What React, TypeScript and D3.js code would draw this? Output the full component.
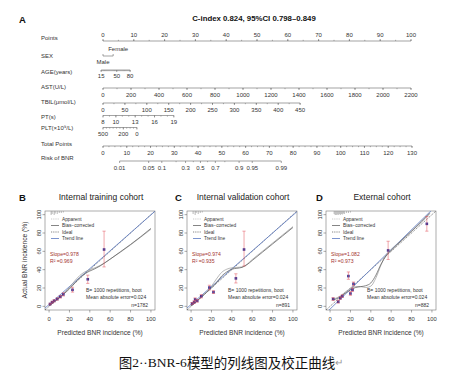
import React from "react";
import * as d3 from "d3";

// ---------- nomogram data ----------
const pointTicks = [0, 10, 20, 30, 40, 50, 60, 70, 80, 90, 100];
const sexLevels = ["Male", "Female"];
const sexScores = [0, 3.3];
const ageTicks = [15, 50, 80];
const ageRange = [15, 80];
const ageScores = [-0.6, 8.8];
const astTicks = [0, 200, 400, 600, 800, 1000, 1200, 1400, 1600, 1800, 2000, 2200];
const astRange = [0, 2200];
const astScores = [0, 100];
const tbilTicks = [0, 50, 100, 150, 200, 250, 300, 350, 400, 450];
const tbilRange = [0, 450];
const tbilScores = [0, 64];
const ptTicks = [8, 10, 13, 16, 19];
const ptRange = [8, 19];
const ptScores = [0, 23];
const pltTicks = [500, 200, 0];
const pltRange = [500, 0];
const pltScores = [0, 11];
const totalTicks = [0, 10, 20, 30, 40, 50, 60, 70, 80, 90, 100, 110, 120, 130];
const riskTicks = [0.01, 0.05, 0.1, 0.3, 0.5, 0.7, 0.9, 0.95, 0.99];
const riskMinor = [0.2, 0.4, 0.6, 0.8];
const riskMid = 41; // total points at 50% risk
const riskPerLogit = 7.4;

// ---------- calibration data: [predicted, actual, lower, upper] ----------
const trainPts = [
  [1, 2.5, 1.6, 3.4], [3, 4.5, 3.4, 5.6], [5, 6, 4.8, 7.2], [8, 8, 6.7, 9.3],
  [11, 10.5, 9, 12], [14, 13, 11.3, 14.8], [23, 18, 15.5, 20.8],
  [38, 29.5, 25, 34], [54, 62, 43, 82],
];
const trainApp = [[0, 0.5], [5, 5], [10, 9.5], [15, 14.5], [20, 20.5], [25, 27.5], [30, 33.5], [35, 37.5], [40, 40], [45, 42], [50, 44.5], [60, 51.5], [70, 59], [80, 67], [90, 75.5], [100, 84]];
const trainCor = [[0, 0.5], [5, 4.8], [10, 9.2], [15, 14], [20, 19], [25, 25], [30, 31], [35, 35.5], [40, 38.5], [45, 41], [50, 44], [60, 51.5], [70, 59.5], [80, 67.5], [90, 76], [100, 85]];
const trainRug = [[2, 4], [3, 3], [5, 4], [6, 2.5], [8, 3], [10, 2], [12, 2], [14, 1.5]];

const validPts = [
  [1, 3, 1.8, 4.2], [3, 4.5, 3, 6], [4, 7.5, 5.8, 9.2], [6, 6, 4.5, 7.5],
  [10, 11, 9.2, 12.8], [18, 20.5, 18, 23], [22, 15.5, 14, 17],
  [44, 30.5, 25.5, 35.5], [52, 62, 44, 82],
];
const validApp = [[0, 0.5], [5, 5], [10, 10], [15, 15.5], [20, 22], [25, 30], [30, 37], [35, 40.5], [40, 42], [45, 42.5], [50, 43], [55, 46], [60, 51], [70, 60], [80, 69], [90, 78], [100, 87]];
const validCor = [[0, 0.5], [5, 5], [10, 10], [15, 15], [20, 20], [25, 26], [30, 33], [35, 37.5], [40, 40.5], [45, 41.5], [50, 42.5], [55, 45.5], [60, 50], [70, 59], [80, 68], [90, 77], [100, 86]];
const validRug = [[2, 3], [4, 4], [5, 2], [7, 3], [9, 2], [11, 1.5]];

const extPts = [
  [3, 8, 6.5, 9.5], [8, 5, 3.5, 6.5], [10, 9, 7.5, 10.5], [12, 11, 9.5, 12.5],
  [20, 14, 12, 16], [22, 18, 16, 20], [23, 24.5, 22.5, 26.5],
  [18, 33, 29.5, 37.5], [57, 61, 51, 71], [95, 90, 82, 98],
];
const extApp = [[3, 8], [8, 10], [12, 13], [16, 16.5], [20, 19.5], [25, 21.5], [30, 21.5], [35, 20.5], [40, 22], [45, 31], [50, 45], [55, 56], [60, 62], [70, 72], [80, 82], [90, 92], [98, 101]];
const extCor = [[3, 7], [8, 9], [12, 12], [16, 15], [20, 18], [25, 20.5], [30, 21.5], [35, 22.5], [40, 25.5], [45, 34], [50, 46], [55, 55], [60, 61], [70, 71.5], [80, 82], [90, 93], [98, 102]];
const extRug = [[4, 3], [5, 4], [6, 4], [7, 3.5], [8, 4], [9, 3], [10, 4], [11, 3], [12, 3.5], [13, 2.5], [14, 3], [16, 2], [18, 2], [20, 1.5]];

const font = "'Liberation Sans', Arial, sans-serif";
const axisCol = "#666";
const txtCol = "#333";

const pointsX = d3.scaleLinear().domain([0, 100]).range([103, 411]);
const totalX = d3.scaleLinear().domain([0, 130]).range([103, 412]);
const varScale = (range: number[], scores: number[]) =>
  d3.scaleLinear().domain(range).range(scores.map((s) => pointsX(s)));

function NomoAxis({ y, map, ticks, minor, labelDy, fmt = (v: number) => String(v) }: any) {
  const all = [...minor, ...ticks].map(map);
  const dir = labelDy < 0 ? -1 : 1;
  return (
    <g>
      <line x1={d3.min(all)} x2={d3.max(all)} y1={y} y2={y} stroke={axisCol} strokeWidth={0.6} />
      {minor.map((v: number, i: number) => (
        <line key={"m" + i} x1={map(v)} x2={map(v)} y1={y} y2={y + dir * 1.2} stroke={axisCol} strokeWidth={0.5} />
      ))}
      {ticks.map((v: number, i: number) => (
        <line key={"t" + i} x1={map(v)} x2={map(v)} y1={y} y2={y + dir * 2} stroke={axisCol} strokeWidth={0.6} />
      ))}
      {ticks.map((v: number, i: number) => (
        <text key={"l" + i} x={map(v)} y={y + labelDy} textAnchor="middle" dominantBaseline="central" fontSize={6} fill={txtCol}>
          {fmt(v)}
        </text>
      ))}
    </g>
  );
}

function Nomogram() {
  const age = varScale(ageRange, ageScores);
  const ast = varScale(astRange, astScores);
  const tbil = varScale(tbilRange, tbilScores);
  const pt = varScale(ptRange, ptScores);
  const plt = varScale(pltRange, pltScores);
  const risk = (p: number) => totalX(riskMid + riskPerLogit * Math.log(p / (1 - p)));
  const labels: [string, number][] = [
    ["Points", 38], ["SEX", 56], ["AGE(years)", 72], ["AST(U/L)", 87], ["TBIL(μmol/L)", 102],
    ["PT(s)", 117], ["PLT(×10⁹/L)", 128], ["Total Points", 144], ["Risk of BNR", 158],
  ];
  const sx = sexScores.map((s) => pointsX(s));
  return (
    <g fontFamily={font}>
      <text x={19} y={19} fontSize={9.5} fontWeight="bold" dominantBaseline="central" fill="#111">A</text>
      <text x={254} y={18} fontSize={7.8} fontWeight="bold" textAnchor="middle" dominantBaseline="central" fill="#111">
        C-index 0.824, 95%CI  0.798–0.849
      </text>
      {labels.map(([l, y]) => (
        <text key={l} x={41} y={y} fontSize={6} dominantBaseline="central" fill={txtCol}>{l}</text>
      ))}
      <NomoAxis y={41} map={pointsX} ticks={pointTicks} minor={d3.range(0, 101, 5)} labelDy={-6} />
      {/* SEX */}
      <line x1={sx[0]} x2={sx[1]} y1={56} y2={56} stroke={axisCol} strokeWidth={0.6} />
      {sx.map((x, i) => (
        <line key={i} x1={x} x2={x} y1={56} y2={54} stroke={axisCol} strokeWidth={0.6} />
      ))}
      <text x={sx[1] + 5} y={49} fontSize={6} textAnchor="middle" dominantBaseline="central" fill={txtCol}>{sexLevels[1]}</text>
      <text x={sx[0]} y={62} fontSize={6} textAnchor="middle" dominantBaseline="central" fill={txtCol}>{sexLevels[0]}</text>
      <NomoAxis y={70} map={age} ticks={ageTicks} minor={d3.range(15, 81, 2.5)} labelDy={6} />
      <NomoAxis y={88} map={ast} ticks={astTicks} minor={d3.range(0, 2201, 100)} labelDy={7} />
      <NomoAxis y={103} map={tbil} ticks={tbilTicks} minor={d3.range(0, 451, 25)} labelDy={6.5} />
      <NomoAxis y={115.5} map={pt} ticks={ptTicks} minor={d3.range(8, 20, 1)} labelDy={6.5} />
      <NomoAxis y={127.5} map={plt} ticks={pltTicks} minor={d3.range(0, 501, 50)} labelDy={6.5} />
      <NomoAxis y={146} map={totalX} ticks={totalTicks} minor={d3.range(0, 131, 2.5)} labelDy={6.5} />
      <NomoAxis y={161} map={risk} ticks={riskTicks} minor={riskMinor} labelDy={6.5} />
    </g>
  );
}

function CalPanel({ L, letter, letterX, title, pts, app, cor, rug, slope, r2, n, icpt, yTitle, id }: any) {
  const top = 211;
  const bottom = 310;
  const W = 110;
  const x = d3.scaleLinear().domain([-4, 104]).range([L, L + W]);
  const y = d3.scaleLinear().domain([-4, 104]).range([bottom, top]);
  const line = d3.line<number[]>().x((d) => x(d[0])).y((d) => y(d[1])).curve(d3.curveMonotoneX);
  const ticks = [0, 20, 40, 60, 80, 100];
  const trend = [[-4, icpt + slope * -4], [104, icpt + slope * 104]];
  const ideal = [[-4, -4], [104, 104]];
  const straight = d3.line<number[]>().x((d) => x(d[0])).y((d) => y(d[1]));
  const legend = [
    { t: "Apparent", c: "#aaa", w: 0.6, dash: "1,0.8" },
    { t: "Bias−corrected", c: "#777", w: 0.9, dash: "" },
    { t: "Ideal", c: "#333", w: 0.6, dash: "1.2,1" },
    { t: "Trend line", c: "#5a78c2", w: 0.8, dash: "" },
  ];
  return (
    <g fontFamily={font}>
      <defs>
        <clipPath id={id}>
          <rect x={L} y={top} width={W} height={bottom - top} />
        </clipPath>
      </defs>
      <text x={letterX} y={197} fontSize={9.5} fontWeight="bold" dominantBaseline="central" fill="#111">{letter}</text>
      <text x={L + 56} y={197} fontSize={8.5} textAnchor="middle" dominantBaseline="central" fill="#222">{title}</text>
      <rect x={L} y={top} width={W} height={bottom - top} fill="none" stroke="#777" strokeWidth={0.6} />
      {ticks.map((t) => (
        <g key={t}>
          <line x1={x(t)} x2={x(t)} y1={bottom} y2={bottom + 2.5} stroke="#555" strokeWidth={0.5} />
          <text x={x(t)} y={bottom + 9} fontSize={5.8} textAnchor="middle" dominantBaseline="central" fill={txtCol}>{t}</text>
          <line x1={L} x2={L - 2.5} y1={y(t)} y2={y(t)} stroke="#555" strokeWidth={0.5} />
          <text transform={`translate(${L - 6},${y(t)}) rotate(-90)`} fontSize={5.8} textAnchor="middle" dominantBaseline="central" fill={txtCol}>{t}</text>
        </g>
      ))}
      <text x={L + 55} y={332} fontSize={6.6} textAnchor="middle" dominantBaseline="central" fill={txtCol}>
        Predicted BNR incidence (%)
      </text>
      {yTitle && (
        <text transform={`translate(${L - 21},260) rotate(-90)`} fontSize={6.7} textAnchor="middle" dominantBaseline="central" fill={txtCol}>
          Actual BNR incidence (%)
        </text>
      )}
      <g clipPath={`url(#${id})`}>
        {rug.map((r: number[], i: number) => (
          <line key={i} x1={x(r[0])} x2={x(r[0])} y1={top} y2={top + r[1]} stroke="#999" strokeWidth={0.7} />
        ))}
        <path d={straight(ideal) || ""} fill="none" stroke="#333" strokeWidth={0.6} strokeDasharray="1.2,1" />
        <path d={straight(trend) || ""} fill="none" stroke="#5a78c2" strokeWidth={0.8} />
        <path d={line(app) || ""} fill="none" stroke="#999" strokeWidth={0.7} />
        <path d={line(cor) || ""} fill="none" stroke="#555" strokeWidth={0.7} />
        {pts.map((p: number[], i: number) => (
          <rect key={"p" + i} x={x(p[0]) - 1.3} y={y(p[1]) - 1.3} width={2.6} height={2.6} fill="#34359a" />
        ))}
        {pts.map((p: number[], i: number) => (
          <g key={"e" + i} stroke="#e4505a" strokeWidth={0.6} opacity={0.85}>
            <line x1={x(p[0])} x2={x(p[0])} y1={y(p[2])} y2={y(p[3])} />
            <line x1={x(p[0]) - 1.6} x2={x(p[0]) + 1.6} y1={y(p[2])} y2={y(p[2])} />
            <line x1={x(p[0]) - 1.6} x2={x(p[0]) + 1.6} y1={y(p[3])} y2={y(p[3])} />
          </g>
        ))}
      </g>
      {legend.map((g, i) => (
        <g key={g.t}>
          <line x1={L + 6} x2={L + 14} y1={top + 8 + i * 6.5} y2={top + 8 + i * 6.5} stroke={g.c} strokeWidth={g.w} strokeDasharray={g.dash} />
          <text x={L + 17} y={top + 8 + i * 6.5} fontSize={4.8} dominantBaseline="central" fill={txtCol}>{g.t}</text>
        </g>
      ))}
      <text x={L + 5} y={254} fontSize={5.1} dominantBaseline="central" fill="#a3332f">Slope={slope.toFixed(3)}</text>
      <text x={L + 5} y={260.5} fontSize={5.1} dominantBaseline="central" fill="#a3332f">R² ={r2.toFixed(3)}</text>
      <text x={L + 41} y={290} fontSize={5} dominantBaseline="central" fill={txtCol}>B= 1000 repetitions, boot</text>
      <text x={L + 41} y={297} fontSize={5} dominantBaseline="central" fill={txtCol}>Mean absolute error=0.024</text>
      <text x={L + 103} y={304.5} fontSize={5} textAnchor="end" dominantBaseline="central" fill={txtCol}>n={n}</text>
    </g>
  );
}

export default function App() {
  return (
    <svg width={458} height={384} style={{ position: "absolute", left: 0, top: 0, background: "#fff" }}>
      <rect width={458} height={384} fill="#fff" />
      <Nomogram />
      <CalPanel id="cb" L={45} letter="B" letterX={19} title="Internal training cohort" pts={trainPts} app={trainApp} cor={trainCor} rug={trainRug} slope={0.978} r2={0.969} n={1782} icpt={2} yTitle />
      <CalPanel id="cc" L={187} letter="C" letterX={175} title="Internal validation cohort" pts={validPts} app={validApp} cor={validCor} rug={validRug} slope={0.974} r2={0.935} n={891} icpt={2} />
      <CalPanel id="cd" L={326} letter="D" letterX={316} title="External  cohort" pts={extPts} app={extApp} cor={extCor} rug={extRug} slope={1.082} r2={0.973} n={882} icpt={-3} />
      <text x={231} y={362} textAnchor="middle" dominantBaseline="central" fontSize={13.5} fill="#111">
        <tspan fontFamily="'Noto Sans CJK SC'">图</tspan>
        <tspan fontFamily="'Liberation Serif', serif">2··BNR-6</tspan>
        <tspan fontFamily="'Noto Sans CJK SC'">模型的列线图及校正曲线</tspan>
        <tspan fontFamily="'Liberation Sans'" fill="#999" fontSize={10}>↵</tspan>
      </text>
    </svg>
  );
}
